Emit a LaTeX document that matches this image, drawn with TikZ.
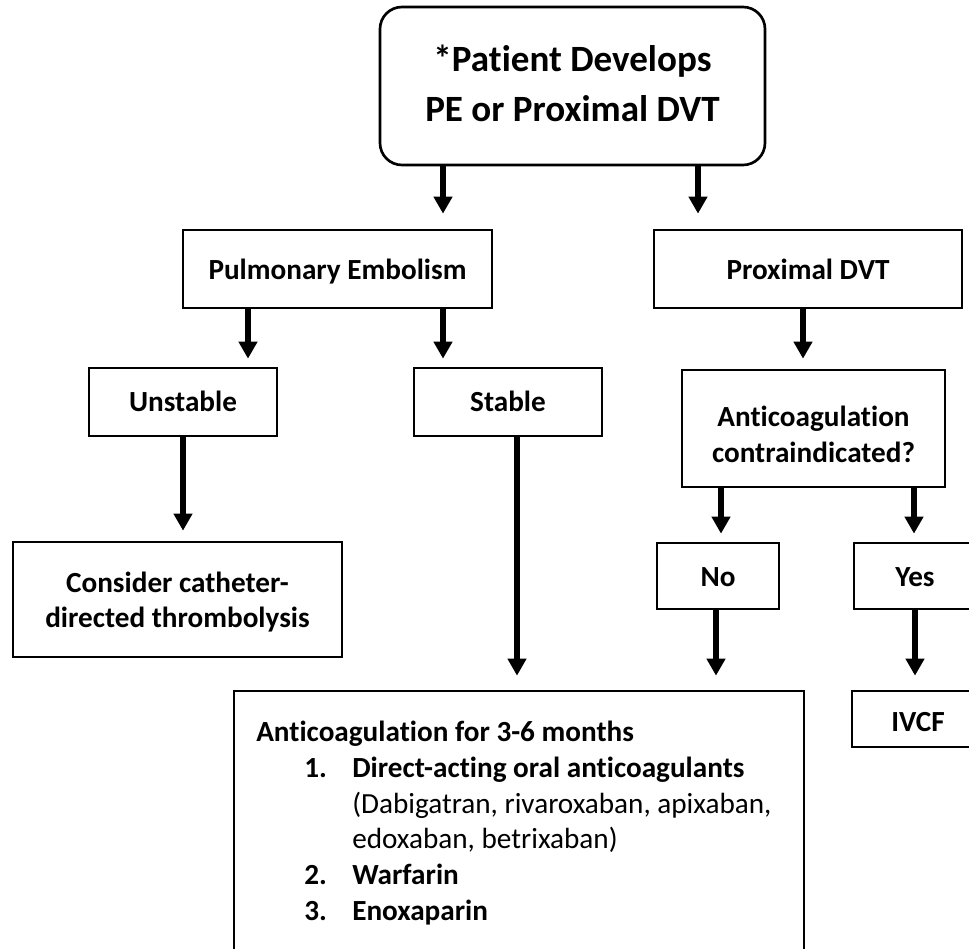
\documentclass[tikz,border=0pt]{standalone}
\usepackage{fontspec}
\setmainfont[RawFeature={-liga;-clig;-dlig;-calt}]{Carlito}
\usetikzlibrary{arrows.meta}
\tikzset{
  box/.style={draw=black, line width=2pt, fill=white, inner sep=0pt},
  lbl/.style={anchor=base, inner sep=0pt, font=\bfseries\fontsize{21.9}{27}\selectfont},
  txt/.style={anchor=base west, inner sep=0pt, font=\fontsize{21.9}{27}\selectfont},
  arr/.style={line width=4.8pt, -{Triangle[width=13.5pt,length=12.75pt]}},
}
\begin{document}
\begin{tikzpicture}[x=0.75pt, y=-0.75pt]
\clip (0,0) rectangle (969,948);
\fill[white] (0,0) rectangle (969,948);
% boxes
\node[box, rounded corners=16.5pt, minimum width=288.75pt, minimum height=118.5pt] (top) at (572.5,86) {};
\node[box, minimum width=231.75pt, minimum height=58.5pt] (pe) at (337.5,269) {};
\node[box, minimum width=231pt, minimum height=58.5pt] (pdvt) at (808,269) {};
\node[box, minimum width=141pt, minimum height=51pt] (unst) at (183,402) {};
\node[box, minimum width=141pt, minimum height=51pt] (stab) at (508,402) {};
\node[box, minimum width=246.75pt, minimum height=86.25pt] (cons) at (177.5,599.5) {};
\node[box, minimum width=197.25pt, minimum height=87.75pt] (acq) at (813.5,428.5) {};
\node[box, minimum width=91.5pt, minimum height=49.5pt] (no) at (718,576) {};
\node[box, minimum width=91.5pt, minimum height=49.5pt] (yes) at (915,576) {};
\node[box, minimum width=99pt, minimum height=42pt] (ivcf) at (918,719) {};
\node[box, minimum width=427.5pt, minimum height=205.5pt] (ac) at (519,828) {};
% texts
\node[lbl, font=\bfseries\fontsize{27.8}{33}\selectfont] (topa) at (572.5,72) {*Patient Develops};
\node[lbl, font=\bfseries\fontsize{27.8}{33}\selectfont] (topb) at (572.5,122) {PE or Proximal DVT};
\node[lbl] (pet) at (337.5,280) {Pulmonary Embolism};
\node[lbl] (pdvtt) at (808,280) {Proximal DVT};
\node[lbl] (unstt) at (183,411) {Unstable};
\node[lbl] (stabt) at (508,411) {Stable};
\node[lbl] (consa) at (177.5,592) {Consider catheter-};
\node[lbl] (consb) at (177.5,627) {directed thrombolysis};
\node[lbl] (acqa) at (813.5,426) {Anticoagulation};
\node[lbl] (acqb) at (813.5,462) {contraindicated?};
\node[lbl] (not) at (718,586) {No};
\node[lbl] (yest) at (915,586) {Yes};
\node[lbl] (ivcft) at (918,731) {IVCF};
\node[txt, font=\bfseries\fontsize{21.9}{27}\selectfont] (ac0) at (256,741) {Anticoagulation for 3-6 months};
\node[txt, font=\bfseries\fontsize{21.9}{27}\selectfont] (n1) at (304,777) {1.};
\node[txt, font=\bfseries\fontsize{21.9}{27}\selectfont] (ac1) at (352,777) {Direct-acting oral anticoagulants};
\node[txt] (ac1b) at (352,813) {(Dabigatran, rivaroxaban, apixaban,};
\node[txt] (ac1c) at (352,848) {edoxaban, betrixaban)};
\node[txt, font=\bfseries\fontsize{21.9}{27}\selectfont] (n2) at (304,884) {2.};
\node[txt, font=\bfseries\fontsize{21.9}{27}\selectfont] (ac2) at (352,884) {Warfarin};
\node[txt, font=\bfseries\fontsize{21.9}{27}\selectfont] (n3) at (304,920) {3.};
\node[txt, font=\bfseries\fontsize{21.9}{27}\selectfont] (ac3) at (352,920) {Enoxaparin};
% arrows
\draw[arr, shorten >=11.25pt] (top.south -| 443,0) -- (pe.north -| 443,0);
\draw[arr, shorten >=11.25pt] (top.south -| 698,0) -- (pdvt.north -| 698,0);
\draw[arr, shorten >=6pt] (pe.south -| 248,0) -- (unst.north -| 248,0);
\draw[arr, shorten >=6pt] (pe.south -| 443,0) -- (stab.north -| 443,0);
\draw[arr, shorten >=7.5pt] (unst.south) -- (cons.north -| unst.south);
\draw[arr, shorten >=7.5pt] (pdvt.south -| 803,0) -- (acq.north -| 803,0);
\draw[arr, shorten >=6pt] (acq.south -| 721,0) -- (no.north -| 721,0);
\draw[arr, shorten >=6pt] (acq.south -| 914,0) -- (yes.north -| 914,0);
\draw[arr, shorten >=10.5pt] (no.south -| 716,0) -- (ac.north -| 716,0);
\draw[arr, shorten >=10.5pt] (yes.south -| 915,0) -- (ivcf.north -| 915,0);
\draw[arr, shorten >=10.5pt] (stab.south -| 517,0) -- (ac.north -| 517,0);
\end{tikzpicture}
\end{document}
